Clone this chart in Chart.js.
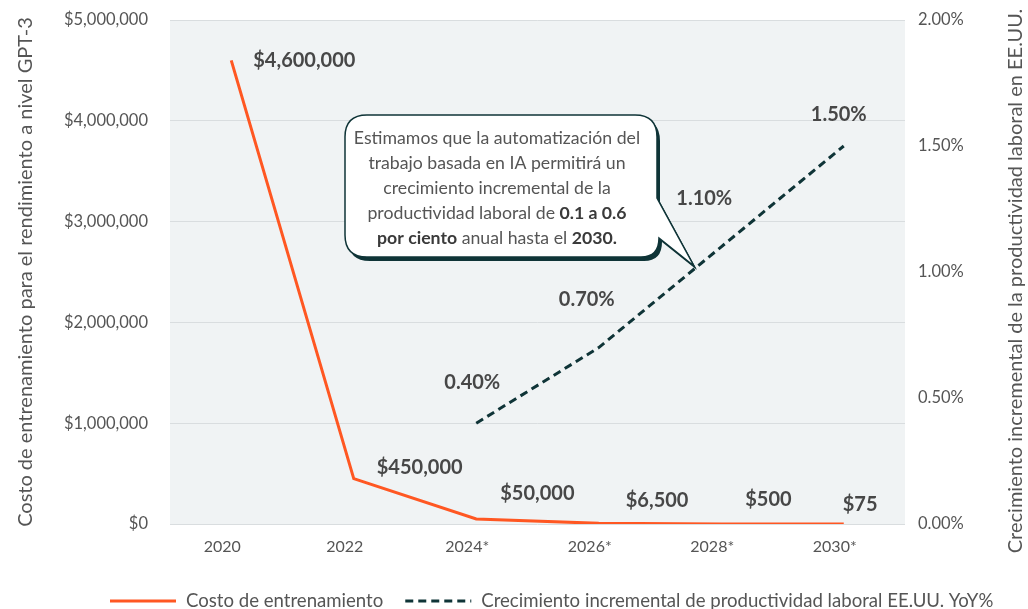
<!DOCTYPE html>
<html>
<head>
<meta charset="utf-8">
<script src="https://cdn.jsdelivr.net/npm/chart.js@4"></script>
<style>
  html, body { margin: 0; padding: 0; background: #fff; overflow: hidden; }
  #wrap { position: relative; width: 1028px; height: 626px; }
</style>
</head>
<body>
<div id="wrap"><canvas id="chart"></canvas></div>
<script>
const years = ['2020', '2022', '2024*', '2026*', '2028*', '2030*'];
const trainingCost = [4600000, 450000, 50000, 6500, 500, 75];
const productivityGrowth = [null, null, 0.40, 0.70, 1.10, 1.50];
const costTicks = [0, 1000000, 2000000, 3000000, 4000000, 5000000];
const growthTicks = [0, 0.5, 1, 1.5, 2];

const costLegend = 'Costo de entrenamiento';
const growthLegend = 'Crecimiento incremental de productividad laboral EE.UU. YoY%';
const leftTitle = 'Costo de entrenamiento para el rendimiento a nivel GPT-3';
const rightTitle = 'Crecimiento incremental de la productividad laboral en EE.UU.';

// callout text: [text, bold]
const calloutLines = [
  [['Estimamos que la automatización del', false]],
  [['trabajo basada en IA permitirá un', false]],
  [['crecimiento incremental de la', false]],
  [['productividad laboral de ', false], ['0.1 a 0.6', true]],
  [['por ciento', true], [' anual hasta el ', false], ['2030.', true]],
];

// label placement relative to each point (dx, dy)
const costLabelOffsets = [[22, 0], [23, -11], [24, -25], [27, -23], [24, -24], [-1, -19]];
const growthLabelOffsets = [null, null, [-4, -41], [-12, -48], [-17, -48], [-5, -31]];

const FONT = 'Lato, "Open Sans", sans-serif';
const RED = '#ff5722';
const TEAL = '#0f3437';
const TEXT = '#555555';
const LABEL = '#474747';

function fmtCost(v) {
  return '$' + v.toLocaleString('en-US');
}

function fmtPct(v) {
  return v.toFixed(2) + '%';
}

const decorPlugin = {
  id: 'decor',
  beforeDraw(chart) {
    const { ctx, chartArea: a } = chart;
    ctx.save();
    ctx.fillStyle = '#f0f3f4';
    ctx.fillRect(a.left, a.top, a.right - a.left, a.bottom - a.top);
    ctx.restore();
  },
  afterDatasetsDraw(chart) {
    const ctx = chart.ctx;
    ctx.save();
    ctx.font = 'bold 20px ' + FONT;
    ctx.fillStyle = LABEL;
    ctx.textBaseline = 'middle';

    chart.getDatasetMeta(0).data.forEach((pt, i) => {
      const [dx, dy] = costLabelOffsets[i];
      ctx.textAlign = 'left';
      ctx.fillText(fmtCost(trainingCost[i]), pt.x + dx, pt.y + dy);
    });

    chart.getDatasetMeta(1).data.forEach((pt, i) => {
      if (productivityGrowth[i] == null) return;
      const [dx, dy] = growthLabelOffsets[i];
      ctx.textAlign = 'center';
      ctx.fillText(fmtPct(productivityGrowth[i]), pt.x + dx, pt.y + dy);
    });
    ctx.restore();
  },
  afterDraw(chart) {
    const ctx = chart.ctx;
    drawCallout(ctx);

    // right axis title, reading bottom to top
    ctx.save();
    ctx.translate(1016, 281);
    ctx.rotate(-Math.PI / 2);
    ctx.font = '20px ' + FONT;
    ctx.fillStyle = TEXT;
    ctx.textAlign = 'center';
    ctx.textBaseline = 'middle';
    ctx.fillText(rightTitle, 0, 0);
    ctx.restore();

    drawLegend(ctx, chart);
  },
};

function calloutPath(ctx, ox, oy) {
  const x0 = 345 + ox, y0 = 115 + oy, x1 = 657 + ox, y1 = 257 + oy, r = 22;
  ctx.beginPath();
  ctx.moveTo(x0 + r, y0);
  ctx.lineTo(x1 - r, y0);
  ctx.quadraticCurveTo(x1, y0, x1, y0 + r);
  ctx.lineTo(x1, 198 + oy);
  ctx.lineTo(694 + ox, 266 + oy);
  ctx.lineTo(x1 + 2, 238 + oy);
  ctx.quadraticCurveTo(x1 + 2, y1, x1 - 16, y1);
  ctx.lineTo(x0 + r, y1);
  ctx.quadraticCurveTo(x0, y1, x0, y1 - r);
  ctx.lineTo(x0, y0 + r);
  ctx.quadraticCurveTo(x0, y0, x0 + r, y0);
  ctx.closePath();
}

function drawCallout(ctx) {
  ctx.save();
  ctx.fillStyle = TEAL;
  calloutPath(ctx, 3, 4);
  ctx.fill();
  ctx.fillStyle = '#ffffff';
  ctx.strokeStyle = TEAL;
  ctx.lineWidth = 1.5;
  calloutPath(ctx, 0, 0);
  ctx.fill();
  ctx.stroke();

  ctx.textBaseline = 'middle';
  ctx.textAlign = 'left';
  calloutLines.forEach((segs, i) => {
    const y = 138 + i * 25;
    let total = 0;
    segs.forEach(([t, b]) => {
      ctx.font = (b ? 'bold ' : '') + '17.7px ' + FONT;
      total += ctx.measureText(t).width;
    });
    let x = 497 - total / 2;
    segs.forEach(([t, b]) => {
      ctx.font = (b ? 'bold ' : '') + '17.7px ' + FONT;
      ctx.fillStyle = b ? '#3a3a3a' : TEXT;
      ctx.fillText(t, x, y);
      x += ctx.measureText(t).width;
    });
  });
  ctx.restore();
}

function drawLegend(ctx, chart) {
  const y = 601;
  ctx.save();
  ctx.font = '18.6px ' + FONT;
  ctx.textBaseline = 'middle';
  ctx.textAlign = 'left';
  ctx.fillStyle = TEXT;
  let x = 110;
  chart.data.datasets.forEach((ds) => {
    ctx.strokeStyle = ds.borderColor;
    ctx.lineWidth = 3;
    ctx.setLineDash(ds.borderDash || []);
    ctx.beginPath();
    ctx.moveTo(x, y);
    ctx.lineTo(x + 66, y);
    ctx.stroke();
    ctx.setLineDash([]);
    ctx.fillText(ds.label, x + 76, y);
    x += 76 + ctx.measureText(ds.label).width + 22;
  });
  ctx.restore();
}

new Chart(document.getElementById('chart'), {
  type: 'line',
  data: {
    labels: years,
    datasets: [
      {
        label: costLegend,
        data: trainingCost,
        borderColor: RED,
        borderWidth: 3,
        pointRadius: 0,
        tension: 0,
        yAxisID: 'y',
      },
      {
        label: growthLegend,
        data: productivityGrowth,
        borderColor: TEAL,
        borderWidth: 3,
        borderDash: [8, 5],
        pointRadius: 0,
        tension: 0,
        yAxisID: 'y1',
      },
    ],
  },
  options: {
    responsive: true,
    maintainAspectRatio: false,
    animation: false,
    layout: { padding: { top: 20, left: 0, right: 0, bottom: 0 } },
    plugins: {
      legend: { display: false },
      tooltip: { enabled: false },
    },
    scales: {
      x: {
        offset: true,
        grid: { display: false },
        border: { display: false },
        ticks: { color: TEXT, font: { family: FONT, size: 16 }, padding: 5, labelOffset: -9 },
        afterFit(s) { s.height = 102; },
      },
      y: {
        position: 'left',
        min: 0,
        max: 5000000,
        afterBuildTicks(s) { s.ticks = costTicks.map((v) => ({ value: v })); },
        grid: { color: '#d9dddf', lineWidth: 1, drawTicks: true, tickLength: 22, tickColor: 'rgba(0,0,0,0)' },
        border: { display: false },
        ticks: { color: TEXT, font: { family: FONT, size: 16.5 }, padding: 0, callback: (v) => fmtCost(v) },
        title: { display: true, text: leftTitle, color: TEXT, font: { family: FONT, size: 20 }, padding: { top: 14, bottom: 0 } },
        afterFit(s) { s.width = 170; },
      },
      y1: {
        position: 'right',
        min: 0,
        max: 2,
        afterBuildTicks(s) { s.ticks = growthTicks.map((v) => ({ value: v })); },
        grid: { drawOnChartArea: false, drawTicks: true, tickLength: 13, tickColor: 'rgba(0,0,0,0)' },
        border: { display: false },
        ticks: { color: TEXT, font: { family: FONT, size: 16.5 }, padding: 0, callback: (v) => fmtPct(v) },
        afterFit(s) { s.width = 123; },
      },
    },
  },
  plugins: [decorPlugin],
});
</script>
</body>
</html>
